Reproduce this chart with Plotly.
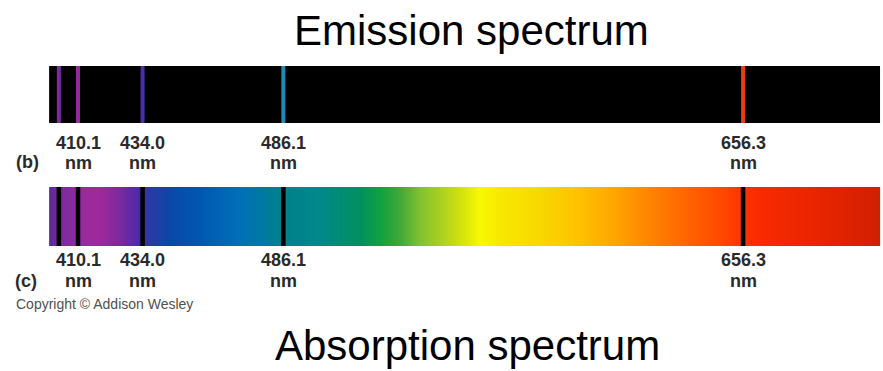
import numpy as np
import plotly.graph_objects as go

# ---------------- data ----------------
# Hydrogen Balmer lines (nm) shown in the picture
line_nm = [403.0, 410.1, 434.0, 486.1, 656.3]          # first line is unlabeled
line_labels = ["", "410.1", "434.0", "486.1", "656.3"]
emission_colors = ["#7a2c9e", "#962a9c", "#4a2eae", "#1c8cb4", "#f03a12"]

# continuous spectrum colour stops (nm -> colour)
spectrum_stops_nm = [399.4, 403.4, 412.7, 418.2, 425.6, 433.0, 436.7, 444.1, 455.3,
                     470.1, 484.9, 499.7, 514.4, 521.8, 529.2, 536.6, 544.0, 551.5,
                     558.9, 566.3, 581.1, 595.9, 610.7, 618.1, 632.9, 647.7, 657.0,
                     662.5, 684.7, 707.0]
spectrum_colors = ["#5a2a9a", "#7a2aa0", "#9a2a9c", "#a0289a", "#7a2aa0", "#4a2aa8",
                   "#2a3aa4", "#0a48a8", "#0058b0", "#0070b8", "#00808e", "#00888a",
                   "#009060", "#10a040", "#40a838", "#80c030", "#a8d020", "#d0e010",
                   "#f8f800", "#f8e800", "#f8d800", "#ffc000", "#ffa000", "#ff8c00",
                   "#ff6a00", "#ff4a00", "#ff3000", "#f82a00", "#e82400", "#d02000"]

spec_min, spec_max = spectrum_stops_nm[0], spectrum_stops_nm[-1]

# ---------------- figure ----------------
W, H = 883, 371
# x axis in nm, fitted so that labelled lines sit where the picture shows them
px_per_nm = 2.7013
x_off = -1029.78
x_range = [(0 - x_off) / px_per_nm, (W - x_off) / px_per_nm]

fig = go.Figure()

EM_TOP, EM_BOT = 66, 123
AB_TOP, AB_BOT = 187, 246
# emission band background (black)
fig.add_shape(type="rect", xref="x", yref="y", x0=spec_min, x1=spec_max,
              y0=EM_TOP, y1=EM_BOT, fillcolor="black", line=dict(width=0), layer="below")

# absorption band background (continuous spectrum)
N = 600
edges = np.linspace(spec_min, spec_max, N + 1)
centers = (edges[:-1] + edges[1:]) / 2
cs = [[(s - spec_min) / (spec_max - spec_min), c] for s, c in zip(spectrum_stops_nm, spectrum_colors)]
fig.add_trace(go.Heatmap(x=edges, y=[AB_TOP, AB_BOT], z=[centers], colorscale=cs,
                         zmin=spec_min, zmax=spec_max, showscale=False, hoverinfo="skip"))

# emission lines
for lam, col in zip(line_nm, emission_colors):
    fig.add_trace(go.Scatter(x=[lam, lam], y=[EM_TOP, EM_BOT], mode="lines",
                             line=dict(color=col, width=4), hoverinfo="skip", showlegend=False))
# absorption lines
for lam in line_nm:
    fig.add_trace(go.Scatter(x=[lam, lam], y=[AB_TOP, AB_BOT], mode="lines",
                             line=dict(color="black", width=4.5), hoverinfo="skip", showlegend=False))

lab_font = dict(family="Liberation Sans, Arial, sans-serif", size=18, color="#2a2a2a")
annos = []
for lam, lab in zip(line_nm, line_labels):
    if not lab:
        continue
    for yv, txt in [(143, lab), (163, "nm"), (260, lab), (281, "nm")]:
        annos.append(dict(x=lam, y=yv, xref="x", yref="y", text="<b>%s</b>" % txt,
                          showarrow=False, font=lab_font, xanchor="center", yanchor="middle"))

annos.append(dict(x=27 / W, y=162, xref="paper", yref="y", text="<b>(b)</b>", showarrow=False,
                  font=lab_font, xanchor="center", yanchor="middle"))
annos.append(dict(x=26 / W, y=281, xref="paper", yref="y", text="<b>(c)</b>", showarrow=False,
                  font=lab_font, xanchor="center", yanchor="middle"))

annos.append(dict(x=14 / W, y=304, xref="paper", yref="y", text="Copyright \u00a9 Addison Wesley",
                  showarrow=False, font=dict(family="Liberation Sans, Arial, sans-serif", size=14, color="#505050"),
                  xanchor="left", yanchor="middle"))

title_font = dict(family="Liberation Sans, Arial, sans-serif", size=42, color="black")
annos.append(dict(x=471.5 / W, y=30, xref="paper", yref="y", text="Emission spectrum",
                  showarrow=False, font=title_font, xanchor="center", yanchor="middle"))
annos.append(dict(x=467 / W, y=H, xref="paper", yref="y", text="Absorption spectrum",
                  showarrow=False, font=title_font, xanchor="center", yanchor="bottom"))

fig.update_layout(
    width=W, height=H, margin=dict(l=0, r=0, t=0, b=0),
    paper_bgcolor="white", plot_bgcolor="white",
    xaxis=dict(range=x_range, visible=False, fixedrange=True),
    yaxis=dict(range=[H, 0], visible=False, fixedrange=True),
    annotations=annos, showlegend=False,
)

fig.write_html("out.html", config={"displayModeBar": False},
               post_script="document.body.style.margin='0px';document.body.style.overflow='hidden';")
